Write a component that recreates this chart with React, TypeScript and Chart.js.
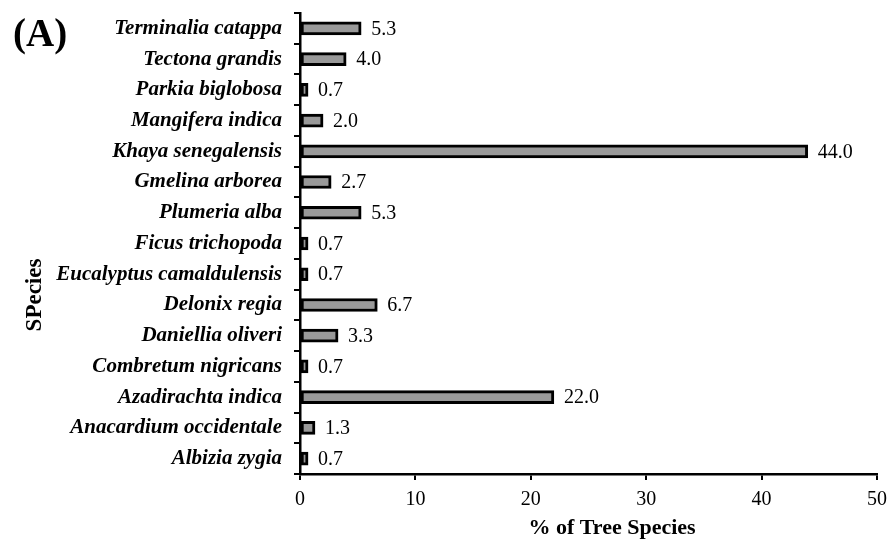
import React, { useEffect, useRef } from "react";
import { Chart, registerables } from "chart.js";

Chart.register(...registerables);

const species: string[] = [
  "Terminalia catappa",
  "Tectona grandis",
  "Parkia biglobosa",
  "Mangifera indica",
  "Khaya senegalensis",
  "Gmelina arborea",
  "Plumeria alba",
  "Ficus trichopoda",
  "Eucalyptus camaldulensis",
  "Delonix regia",
  "Daniellia oliveri",
  "Combretum nigricans",
  "Azadirachta indica",
  "Anacardium occidentale",
  "Albizia zygia",
];

const percentOfTrees: number[] = [
  5.3, 4.0, 0.7, 2.0, 44.0, 2.7, 5.3, 0.7, 0.7, 6.7, 3.3, 0.7, 22.0, 1.3, 0.7,
];

const xTicks: number[] = [0, 10, 20, 30, 40, 50];

const panelLabel = "(A)";
const xTitle = "% of Tree Species";
const yTitle = "SPecies";

const SERIF = '"Liberation Serif", "Times New Roman", serif';

// Writes each bar's value just past its end, plus the panel tag and axis titles.
const annotations = {
  id: "annotations",
  afterDatasetsDraw(chart: any) {
    const ctx = chart.ctx as CanvasRenderingContext2D;
    const meta = chart.getDatasetMeta(0);
    ctx.save();
    ctx.fillStyle = "#000";
    ctx.font = `20px ${SERIF}`;
    ctx.textAlign = "left";
    ctx.textBaseline = "middle";
    meta.data.forEach((bar: any, i: number) => {
      ctx.fillText(percentOfTrees[i].toFixed(1), bar.x + 10, bar.y + 1);
    });

    ctx.font = `bold 39px ${SERIF}`;
    ctx.textBaseline = "alphabetic";
    ctx.fillText(panelLabel, 13, 46);

    ctx.font = `bold 22px ${SERIF}`;
    ctx.textAlign = "center";
    ctx.textBaseline = "middle";
    ctx.fillText(xTitle, 612, 528);

    ctx.font = `bold 23px ${SERIF}`;
    ctx.translate(35, 295);
    ctx.rotate(-Math.PI / 2);
    ctx.fillText(yTitle, 0, 0);
    ctx.restore();
  },
};

export default function App() {
  const canvasRef = useRef<HTMLCanvasElement | null>(null);

  useEffect(() => {
    if (!canvasRef.current) return;
    const chart = new Chart(canvasRef.current, {
      type: "bar",
      data: {
        labels: species,
        datasets: [
          {
            data: percentOfTrees,
            backgroundColor: "#999999",
            borderColor: "#000000",
            borderWidth: 3,
            borderSkipped: false,
            barThickness: 13,
          },
        ],
      },
      options: {
        indexAxis: "y",
        responsive: false,
        animation: false,
        layout: { padding: { left: 0, top: 13, right: 11, bottom: 0 } },
        plugins: {
          legend: { display: false },
          tooltip: { enabled: false },
        },
        scales: {
          x: {
            type: "linear",
            min: 0,
            max: 50,
            afterBuildTicks: (scale: any) => {
              scale.ticks = xTicks.map((v) => ({ value: v }));
            },
            afterFit: (scale: any) => {
              scale.height = 71;
              scale.paddingLeft = 0;
              scale.paddingRight = 0;
            },
            border: { display: true, color: "#000", width: 2.5 },
            grid: {
              drawOnChartArea: false,
              drawTicks: true,
              tickLength: 6,
              color: "#000",
              lineWidth: 2,
            },
            ticks: {
              color: "#000",
              padding: 8,
              font: { family: SERIF, size: 20 },
            },
          },
          y: {
            type: "category",
            afterFit: (scale: any) => {
              scale.width = 300;
              scale.paddingTop = 0;
              scale.paddingBottom = 0;
            },
            border: { display: true, color: "#000", width: 2.5 },
            grid: {
              offset: true,
              drawOnChartArea: false,
              drawTicks: true,
              tickLength: 6,
              color: "#000",
              lineWidth: 2,
            },
            ticks: {
              color: "#000",
              padding: 12,
              font: { family: SERIF, size: 21, style: "italic", weight: "bold" },
            },
          },
        },
      },
      plugins: [annotations],
    });
    return () => chart.destroy();
  }, []);

  return (
    <div style={{ position: "fixed", left: 0, top: 0, width: 888, height: 545, background: "#fff" }}>
      <canvas ref={canvasRef} width={888} height={545} style={{ display: "block" }} />
    </div>
  );
}
